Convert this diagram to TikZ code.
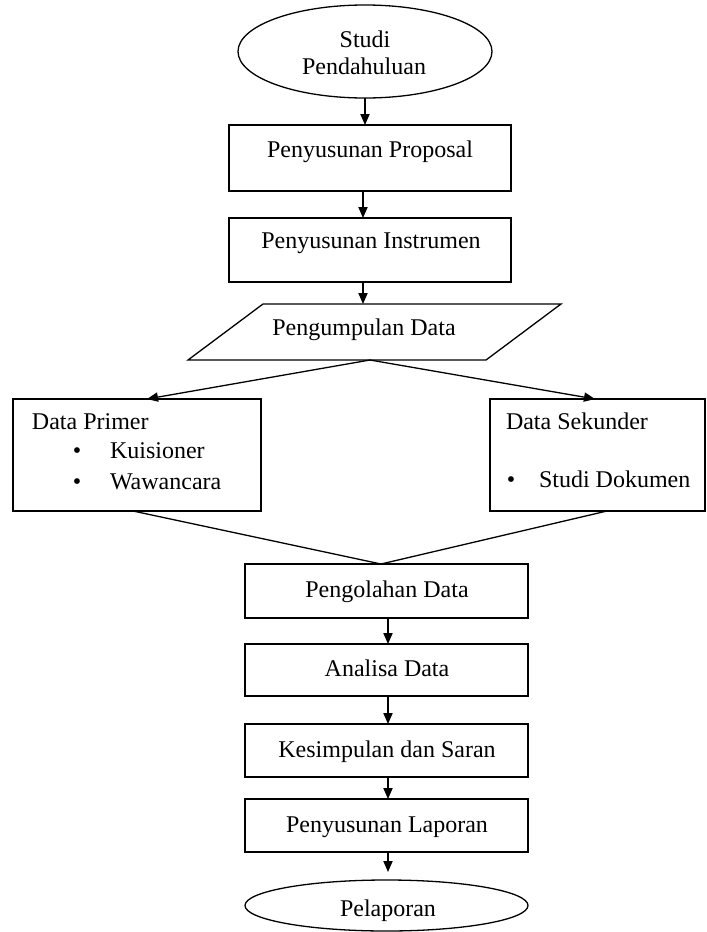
\documentclass[tikz,border=0pt]{standalone}
\usepackage{fontspec}
\setmainfont{Liberation Serif}
\usetikzlibrary{shapes.geometric,arrows.meta}
\begin{document}
\begin{tikzpicture}[x=0.5pt,y=-0.5pt,
  line width=0.65pt,
  every node/.style={font=\fontsize{12}{13.5}\selectfont, inner sep=0pt, outer sep=0pt},
  oval/.style={draw, ellipse, minimum width=#1},
  stepbox/.style={draw, rectangle, minimum width=141.5pt},
  arr/.style={-{Triangle[length=5.5pt,width=4.6pt]}},
  lbl/.style={anchor=base},
  lblw/.style={anchor=base west}]
\useasboundingbox (0,0) rectangle (707,932);
% shapes
\node[oval=127pt, minimum height=46.5pt] (studi) at (365,51.5) {};
\node[stepbox, minimum width=141pt, minimum height=33pt] (prop) at (370,158) {};
\node[stepbox, minimum width=141pt, minimum height=32pt] (instr) at (370,250) {};
\coordinate (pa) at (263,304);
\coordinate (pb) at (561,304);
\coordinate (pc) at (486,360);
\coordinate (pd) at (188,360);
\draw (pa) -- (pb) -- (pc) -- (pd) -- cycle;
\coordinate (ptop) at (363,304);
\coordinate (psplit) at (370,360);
\node[stepbox, minimum width=124pt, minimum height=56pt] (prim) at (137,455) {};
\node[stepbox, minimum width=107.5pt, minimum height=56pt] (sek) at (597.5,455) {};
\node[stepbox, minimum height=27pt] (olah) at (386.5,591) {};
\node[stepbox, minimum height=26pt] (anal) at (386.5,670) {};
\node[stepbox, minimum height=26.5pt] (kes) at (386.5,750.5) {};
\node[stepbox, minimum height=26.5pt] (lap) at (386.5,825.5) {};
\node[oval=141.5pt, minimum height=25.5pt] (pel) at (386.5,905.5) {};
% texts
\node[lbl] (t1) at (365,47) {Studi};
\node[lbl] (t2) at (364,74) {Pendahuluan};
\node[lbl] (tprop) at (370,157) {Penyusunan Proposal};
\node[lbl] (tinst) at (371,248) {Penyusunan Instrumen};
\node[lbl] (tpd) at (364,335) {Pengumpulan Data};
\node[lblw] (tprim) at (32,429) {Data Primer};
\node[lbl] (b1) at (77,458) {\textbullet};
\node[lblw] (tk) at (110,458) {Kuisioner};
\node[lbl] (b2) at (77,489) {\textbullet};
\node[lblw] (tw) at (110,489) {Wawancara};
\node[lblw] (tsek) at (506,429) {Data Sekunder};
\node[lbl] (b3) at (511,487) {\textbullet};
\node[lblw] (tsd) at (539,487) {Studi Dokumen};
\node[lbl] (tolah) at (387,597) {Pengolahan Data};
\node[lbl] (tanal) at (387,676) {Analisa Data};
\node[lbl] (tkes) at (387,757) {Kesimpulan dan Saran};
\node[lbl] (tlap) at (387,832) {Penyusunan Laporan};
\node[lbl] (tpel) at (388,916) {Pelaporan};
% connectors
\draw[arr] (studi.south) -- (studi.south |- prop.north);
\draw[arr] ([xshift=-3.5pt]prop.south) -- ([xshift=-3.5pt]instr.north);
\draw[arr] ([xshift=-3.5pt]instr.south) -- (ptop);
\draw[arr] (psplit) -- ([xshift=5pt]prim.north);
\draw[arr] (psplit) -- ([xshift=-1.25pt]sek.north);
\coordinate (jn) at ([xshift=-2.75pt]olah.north);
\draw ([xshift=-2pt]prim.south) -- (jn) -- ([xshift=4.75pt]sek.south);
\draw[arr] ([xshift=0.75pt]olah.south) -- ([xshift=0.75pt]anal.north);
\draw[arr] ([xshift=0.75pt]anal.south) -- ([xshift=0.75pt]kes.north);
\draw[arr] ([xshift=0.75pt]kes.south) -- ([xshift=0.75pt]lap.north);
\draw[arr] ([xshift=0.75pt]lap.south) -- ([xshift=0.75pt,yshift=4pt]pel.north);
\end{tikzpicture}
\end{document}
